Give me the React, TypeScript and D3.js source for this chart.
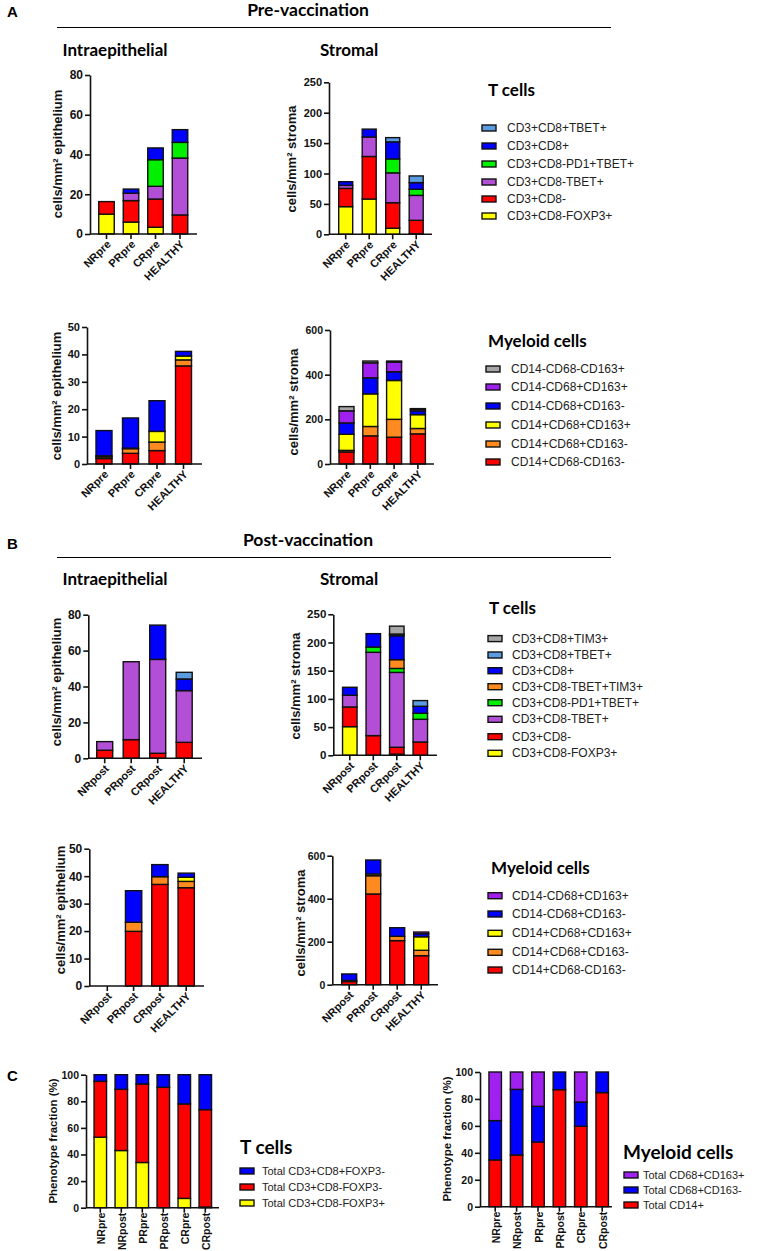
import React, { useEffect, useRef } from 'react';
import * as d3 from 'd3';

// categories
const preCats = ['NRpre', 'PRpre', 'CRpre', 'HEALTHY'];
const postCats = ['NRpost', 'PRpost', 'CRpost', 'HEALTHY'];
const fracCats = ['NRpre', 'NRpost', 'PRpre', 'PRpost', 'CRpre', 'CRpost'];

// series keys, bottom -> top of the stack
const preTKeys = ['CD3+CD8-FOXP3+', 'CD3+CD8-', 'CD3+CD8-TBET+', 'CD3+CD8-PD1+TBET+', 'CD3+CD8+', 'CD3+CD8+TBET+'];
const postTKeys = ['CD3+CD8-FOXP3+', 'CD3+CD8-', 'CD3+CD8-TBET+', 'CD3+CD8-PD1+TBET+', 'CD3+CD8-TBET+TIM3+', 'CD3+CD8+', 'CD3+CD8+TBET+', 'CD3+CD8+TIM3+'];
const preMKeys = ['CD14+CD68-CD163-', 'CD14+CD68+CD163-', 'CD14+CD68+CD163+', 'CD14-CD68+CD163-', 'CD14-CD68+CD163+', 'CD14-CD68-CD163+'];
const postMKeys = ['CD14+CD68-CD163-', 'CD14+CD68+CD163-', 'CD14+CD68+CD163+', 'CD14-CD68+CD163-', 'CD14-CD68+CD163+'];
const fracTKeys = ['Total CD3+CD8-FOXP3+', 'Total CD3+CD8-FOXP3-', 'Total CD3+CD8+FOXP3-'];
const fracMKeys = ['Total CD14+', 'Total CD68+CD163-', 'Total CD68+CD163+'];

// segment values, one row per key (same order as keys), one column per category
const preTIntra = [
  [10, 6, 3.4, 0],
  [6.3, 10.8, 14.2, 9.6],
  [0, 3.7, 6.4, 28.6],
  [0, 0, 13.4, 7.9],
  [0, 2.1, 5.9, 6.4],
  [0, 0, 0, 0],
];
const preTStroma = [
  [45.5, 58, 10, 1],
  [30, 70, 42, 22],
  [5, 32, 49, 41],
  [0, 0, 23, 10],
  [6, 13, 28, 11],
  [0, 0, 7, 11],
];
const preMIntra = [
  [2, 3.9, 4.9, 35.8],
  [0.6, 1.7, 3.1, 2.2],
  [0.4, 0.2, 3.9, 1.4],
  [9.2, 11, 11.2, 1.7],
  [0, 0, 0, 0],
  [0, 0, 0, 0],
];
const preMStroma = [
  [54, 126, 120, 135],
  [7, 42, 80, 24],
  [72, 146, 174, 62],
  [51, 72, 39, 17],
  [54, 67, 43, 7],
  [19, 8, 5, 3],
];
const postTIntra = [
  [0, 0, 0, 0],
  [4.5, 10.4, 2.8, 8.9],
  [4.8, 43.4, 52.3, 28.8],
  [0, 0, 0, 0],
  [0, 0, 0, 0],
  [0, 0, 19.1, 6.5],
  [0, 0, 0, 3.7],
  [0, 0, 0, 0],
];
const postTStroma = [
  [50.8, 0, 2, 0],
  [34.9, 34.9, 12.2, 23.6],
  [20.7, 147.7, 132.8, 40.2],
  [0, 9.4, 7, 10.7],
  [0, 0, 15.6, 0],
  [14.2, 23.7, 42.4, 12.4],
  [0, 0, 3, 10.1],
  [0, 0, 14, 0],
];
const postMIntra = [
  [0, 19.9, 37, 35.8],
  [0, 3.3, 2.8, 2.3],
  [0, 0, 0, 1.5],
  [0, 11.5, 4.4, 1.5],
  [0, 0, 0, 0],
];
const postMStroma = [
  [15, 422, 205, 135],
  [5, 85, 20, 25],
  [0, 8, 0, 63],
  [30, 65, 40, 14],
  [0, 0, 0, 8],
];
const fracT = [
  [53, 43, 34, 0, 7, 0.5],
  [42, 46, 59, 90.5, 71, 73.2],
  [5, 11, 7, 9.5, 22, 26.3],
];
const fracM = [
  [34.7, 38.4, 48, 86.9, 59.7, 84.7],
  [29.2, 48.7, 26.5, 13.1, 18, 15.3],
  [36.1, 12.9, 25.5, 0, 22.3, 0],
];

const colors: Record<string, string> = {
  'CD3+CD8-FOXP3+': '#FFFF00',
  'CD3+CD8-': '#FF0000',
  'CD3+CD8-TBET+': '#B24FD6',
  'CD3+CD8-PD1+TBET+': '#00F000',
  'CD3+CD8-TBET+TIM3+': '#FF8A1F',
  'CD3+CD8+': '#0000FF',
  'CD3+CD8+TBET+': '#5B9BE0',
  'CD3+CD8+TIM3+': '#A6A6A6',
  'CD14+CD68-CD163-': '#FF0000',
  'CD14+CD68+CD163-': '#FF8A1F',
  'CD14+CD68+CD163+': '#FFFF00',
  'CD14-CD68+CD163-': '#0000FF',
  'CD14-CD68+CD163+': '#A020F0',
  'CD14-CD68-CD163+': '#A6A6A6',
  'Total CD3+CD8-FOXP3+': '#FFFF00',
  'Total CD3+CD8-FOXP3-': '#FF0000',
  'Total CD3+CD8+FOXP3-': '#0000FF',
  'Total CD14+': '#FF0000',
  'Total CD68+CD163-': '#0000FF',
  'Total CD68+CD163+': '#A020F0',
};

const ARIAL = '"Liberation Sans", Arial, sans-serif';
const CALIBRI = 'Lato, "Open Sans", sans-serif';

interface ChartCfg {
  cats: string[]; keys: string[]; values: number[][];
  max: number; step: number; tf: number;
  axisX: number; yZero: number; yTop: number; axisEnd: number;
  first: number; band: number; barW: number;
  label: string; labelX: number; labelY: number;
  rot: number;
}

const charts: ChartCfg[] = [
  { cats: preCats, keys: preTKeys, values: preTIntra, max: 80, step: 20, tf: 12, axisX: 90, yZero: 234, yTop: 75, axisEnd: 197, first: 106.5, band: 24.5, barW: 15.5, label: 'cells/mm² epithelium', labelX: 62, labelY: 154, rot: 45 },
  { cats: preCats, keys: preTKeys, values: preTStroma, max: 250, step: 50, tf: 11, axisX: 329, yZero: 234.3, yTop: 82.3, axisEnd: 432, first: 345.7, band: 23.5, barW: 14, label: 'cells/mm² stroma', labelX: 296, labelY: 159, rot: 45 },
  { cats: preCats, keys: preMKeys, values: preMIntra, max: 50, step: 10, tf: 11, axisX: 87, yZero: 464, yTop: 327, axisEnd: 202, first: 104, band: 26.5, barW: 16, label: 'cells/mm² epithelium', labelX: 61, labelY: 396, rot: 45 },
  { cats: preCats, keys: preMKeys, values: preMStroma, max: 600, step: 200, tf: 10.5, axisX: 330, yZero: 464, yTop: 330, axisEnd: 434, first: 346.5, band: 23.8, barW: 15, label: 'cells/mm² stroma', labelX: 298, labelY: 402, rot: 45 },
  { cats: postCats, keys: postTKeys, values: postTIntra, max: 80, step: 20, tf: 12, axisX: 88.3, yZero: 758.3, yTop: 614.7, axisEnd: 202, first: 104.7, band: 26.5, barW: 16, label: 'cells/mm² epithelium', labelX: 61, labelY: 682, rot: 45 },
  { cats: postCats, keys: postTKeys, values: postTStroma, max: 250, step: 50, tf: 11.5, axisX: 333.3, yZero: 755.3, yTop: 614.3, axisEnd: 437, first: 349.8, band: 23.5, barW: 14.5, label: 'cells/mm² stroma', labelX: 300, labelY: 686, rot: 45 },
  { cats: postCats, keys: postMKeys, values: postMIntra, max: 50, step: 10, tf: 12, axisX: 89.3, yZero: 986, yTop: 848.7, axisEnd: 204, first: 107.3, band: 26.3, barW: 16.3, label: 'cells/mm² epithelium', labelX: 65, labelY: 910, rot: 45 },
  { cats: postCats, keys: postMKeys, values: postMStroma, max: 600, step: 200, tf: 10.5, axisX: 332.3, yZero: 984.7, yTop: 855.7, axisEnd: 438, first: 349.2, band: 24, barW: 15, label: 'cells/mm² stroma', labelX: 305, labelY: 923, rot: 45 },
  { cats: fracCats, keys: fracTKeys, values: fracT, max: 100, step: 20, tf: 10.5, axisX: 86, yZero: 1207.7, yTop: 1074.7, axisEnd: 219, first: 100.3, band: 21, barW: 12.5, label: 'Phenotype fraction (%)', labelX: 57, labelY: 1141, rot: 90 },
  { cats: fracCats, keys: fracMKeys, values: fracM, max: 100, step: 20, tf: 10.5, axisX: 480, yZero: 1206.7, yTop: 1072, axisEnd: 612, first: 495.2, band: 21.4, barW: 12.5, label: 'Phenotype fraction (%)', labelX: 451, labelY: 1139, rot: 90 },
];

interface LegendCfg { title: string; tx: number; ty: number; tsize: number; fs: number; keys: string[]; sx: number; textX: number; ys: number[] }

const legends: LegendCfg[] = [
  { title: 'T cells', tx: 488, ty: 96, tsize: 17, fs: 12, keys: [...preTKeys].reverse(), sx: 482, textX: 507, ys: [128, 146, 164, 182, 199, 216] },
  { title: 'Myeloid cells', tx: 488, ty: 347, tsize: 17, fs: 12, keys: [...preMKeys].reverse(), sx: 486, textX: 511, ys: [369, 387, 406, 425, 444, 462] },
  { title: 'T cells', tx: 489, ty: 614, tsize: 17, fs: 12, keys: [...postTKeys].reverse(), sx: 488, textX: 512, ys: [638.6, 655, 670.7, 686.7, 702.7, 719.3, 736.7, 753.3] },
  { title: 'Myeloid cells', tx: 491, ty: 874, tsize: 17, fs: 12, keys: [...postMKeys].reverse(), sx: 488, textX: 512, ys: [895.7, 914, 933.3, 952.3, 970] },
  { title: 'T cells', tx: 240, ty: 1154, tsize: 19, fs: 11, keys: [...fracTKeys].reverse(), sx: 240, textX: 262, ys: [1171, 1187, 1203] },
  { title: 'Myeloid cells', tx: 623, ty: 1159, tsize: 19, fs: 11, keys: [...fracMKeys].reverse(), sx: 624, textX: 643, ys: [1175, 1190, 1205] },
];

const App: React.FC = () => {
  const svgRef = useRef<SVGSVGElement>(null);

  useEffect(() => {
    if (!svgRef.current) return;
    const svg = d3.select(svgRef.current);
    svg.selectAll('*').remove();

    svg.append('rect').attr('width', 767).attr('height', 1251).attr('fill', '#fff');

    // section headers
    const head = svg.append('g').attr('fill', '#000');
    [['A', 17], ['B', 549], ['C', 1081]].forEach(([t, y]) => {
      head.append('text').attr('x', 7).attr('y', y as number).text(t as string)
        .attr('font-family', ARIAL).attr('font-weight', 'bold').attr('font-size', 15);
    });
    [['Pre-vaccination', 16, 27.5], ['Post-vaccination', 546, 557.5]].forEach(([t, y, ly]) => {
      head.append('text').attr('x', 308).attr('y', y as number).attr('text-anchor', 'middle').text(t as string)
        .attr('font-family', CALIBRI).attr('font-weight', 'bold').attr('font-size', 17.5);
      head.append('line').attr('x1', 57).attr('x2', 611).attr('y1', ly as number).attr('y2', ly as number)
        .attr('stroke', '#000').attr('stroke-width', 1);
    });
    [56, 585].forEach(y => {
      head.append('text').attr('x', 115).attr('y', y).attr('text-anchor', 'middle').text('Intraepithelial')
        .attr('font-family', CALIBRI).attr('font-weight', 'bold').attr('font-size', 17);
      head.append('text').attr('x', 349).attr('y', y).attr('text-anchor', 'middle').text('Stromal')
        .attr('font-family', CALIBRI).attr('font-weight', 'bold').attr('font-size', 17);
    });

    charts.forEach(c => {
      const g = svg.append('g');
      const y = d3.scaleLinear().domain([0, c.max]).range([c.yZero, c.yTop]);
      const pad = 1 - c.barW / c.band;
      const start = c.first - c.band / 2;
      const x = d3.scaleBand<string>().domain(c.cats)
        .range([start, start + c.band * c.cats.length])
        .paddingInner(pad).paddingOuter(pad / 2);

      const table = c.cats.map((cat, i) => {
        const row: any = { cat };
        c.keys.forEach((k, j) => { row[k] = c.values[j][i]; });
        return row;
      });
      const series = d3.stack<any>().keys(c.keys)(table);

      g.append('g').selectAll('g').data(series).join('g')
        .attr('fill', d => colors[d.key])
        .selectAll('rect')
        .data(d => d.filter(s => s[1] - s[0] > 0))
        .join('rect')
        .attr('x', d => x(d.data.cat)!)
        .attr('width', x.bandwidth())
        .attr('y', d => y(d[1]))
        .attr('height', d => y(d[0]) - y(d[1]))
        .attr('stroke', '#111')
        .attr('stroke-width', 1.4);

      // y axis
      const ticks = d3.range(0, c.max + 0.001, c.step);
      const ya = g.append('g').attr('transform', `translate(${c.axisX},0)`)
        .call(d3.axisLeft(y).tickValues(ticks).tickSize(5).tickSizeOuter(0).tickPadding(2));
      ya.select('.domain').attr('stroke', '#111').attr('stroke-width', 1.6);
      ya.selectAll('.tick line').attr('stroke', '#111').attr('stroke-width', 1.6);
      ya.selectAll('.tick text').attr('font-family', ARIAL).attr('font-weight', 'bold')
        .attr('font-size', c.tf).attr('fill', '#111');

      // x axis
      g.append('line').attr('x1', c.axisX).attr('x2', c.axisEnd).attr('y1', c.yZero).attr('y2', c.yZero)
        .attr('stroke', '#111').attr('stroke-width', 1.6);
      const xa = g.append('g').attr('transform', `translate(0,${c.yZero})`)
        .call(d3.axisBottom(x).tickSize(5).tickSizeOuter(0));
      xa.select('.domain').remove();
      xa.selectAll('.tick line').attr('stroke', '#111').attr('stroke-width', 1.6);
      const xt = xa.selectAll<SVGTextElement, string>('.tick text')
        .attr('font-family', ARIAL).attr('font-weight', 'bold').attr('fill', '#111')
        .attr('text-anchor', 'end');
      if (c.rot === 45) {
        xt.attr('font-size', 11).attr('y', 0).attr('dy', 0)
          .attr('transform', 'translate(5,11) rotate(-45)');
      } else {
        xt.attr('font-size', 10.5).attr('y', 0).attr('dy', 0)
          .attr('transform', 'translate(4.5,5) rotate(-90)');
      }

      // y label
      g.append('text')
        .attr('transform', `translate(${c.labelX},${c.labelY}) rotate(-90)`)
        .attr('text-anchor', 'middle')
        .attr('font-family', ARIAL).attr('font-weight', 'bold')
        .attr('font-size', c.rot === 90 ? 11.5 : 13).attr('fill', '#111')
        .text(c.label);
    });

    legends.forEach(l => {
      const g = svg.append('g');
      g.append('text').attr('x', l.tx).attr('y', l.ty).text(l.title)
        .attr('font-family', CALIBRI).attr('font-weight', 'bold').attr('font-size', l.tsize);
      l.keys.forEach((k, i) => {
        g.append('rect').attr('x', l.sx).attr('y', l.ys[i] - 3).attr('width', 14).attr('height', 6)
          .attr('fill', colors[k]).attr('stroke', '#111').attr('stroke-width', 1.4);
        g.append('text').attr('x', l.textX).attr('y', l.ys[i] + 4).text(k)
          .attr('font-family', ARIAL).attr('font-size', l.fs).attr('fill', '#222');
      });
    });
  }, []);

  return (
    <svg ref={svgRef} width={767} height={1251}
      style={{ position: 'absolute', left: 0, top: 0, display: 'block' }} />
  );
};

export default App;
